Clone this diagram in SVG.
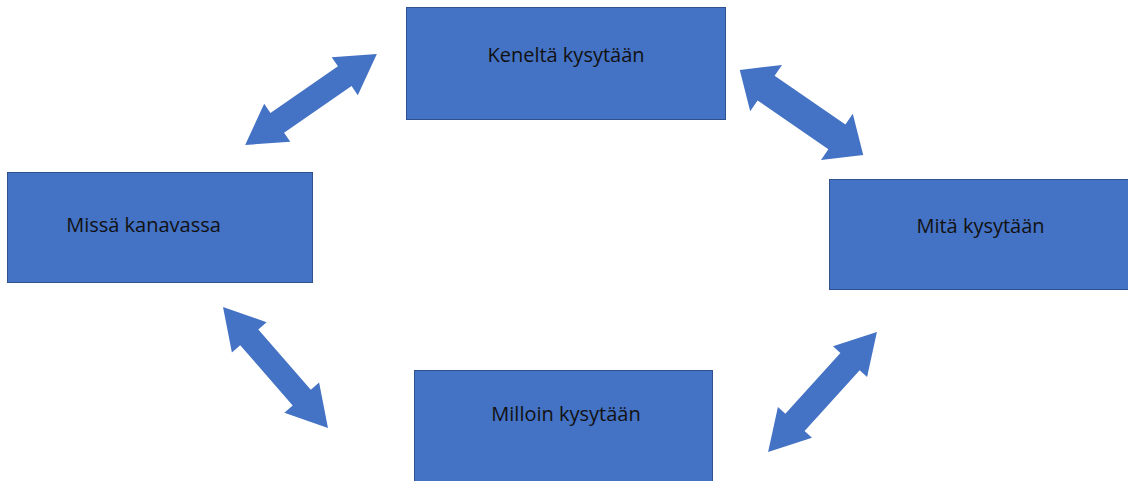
<svg xmlns="http://www.w3.org/2000/svg" width="1128" height="481" viewBox="0 0 1128 481">
<style>
.box{fill:#4472C4;stroke:#2F528F;stroke-width:1}
.lbl{font-family:"Open Sans","Noto Sans",sans-serif;font-size:20px;fill:#111111;text-anchor:middle}
.arr{fill:#4472C4}
</style>
<rect width="1128" height="481" fill="#ffffff"/>
<g id="connectors">
<path class="arr" transform="translate(311,99.5) rotate(-34.6)" d="M -80 0 L -41 -23 L -41 -12 L 41 -12 L 41 -23 L 80 0 L 41 23 L 41 12 L -41 12 L -41 23 Z"/>
<path class="arr" transform="translate(801.5,112.5) rotate(34.6)" d="M -75 0 L -43 -28 L -43 -15 L 43 -15 L 43 -28 L 75 0 L 43 28 L 43 15 L -43 15 L -43 28 Z"/>
<path class="arr" transform="translate(275.5,367.5) rotate(49)" d="M -80 0 L -40 -23 L -40 -12 L 40 -12 L 40 -23 L 80 0 L 40 23 L 40 12 L -40 12 L -40 23 Z"/>
<path class="arr" transform="translate(822.5,392) rotate(-47.8)" d="M -81 0 L -41 -23 L -41 -13 L 41 -13 L 41 -23 L 81 0 L 41 23 L 41 13 L -41 13 L -41 23 Z"/>
</g>
<g id="node-keneltä">
<rect class="box" x="406.5" y="7.5" width="319" height="112"/>
<text class="lbl" x="566" y="62">Keneltä kysytään</text>
</g>
<g id="node-missä">
<rect class="box" x="7.5" y="172.5" width="305" height="110"/>
<text class="lbl" x="143.5" y="232">Missä kanavassa</text>
</g>
<g id="node-mitä">
<rect class="box" x="829.5" y="179.5" width="300" height="110"/>
<text class="lbl" x="980.5" y="233">Mitä kysytään</text>
</g>
<g id="node-milloin">
<rect class="box" x="414.5" y="370.5" width="298" height="112"/>
<text class="lbl" x="566" y="421">Milloin kysytään</text>
</g>
</svg>
